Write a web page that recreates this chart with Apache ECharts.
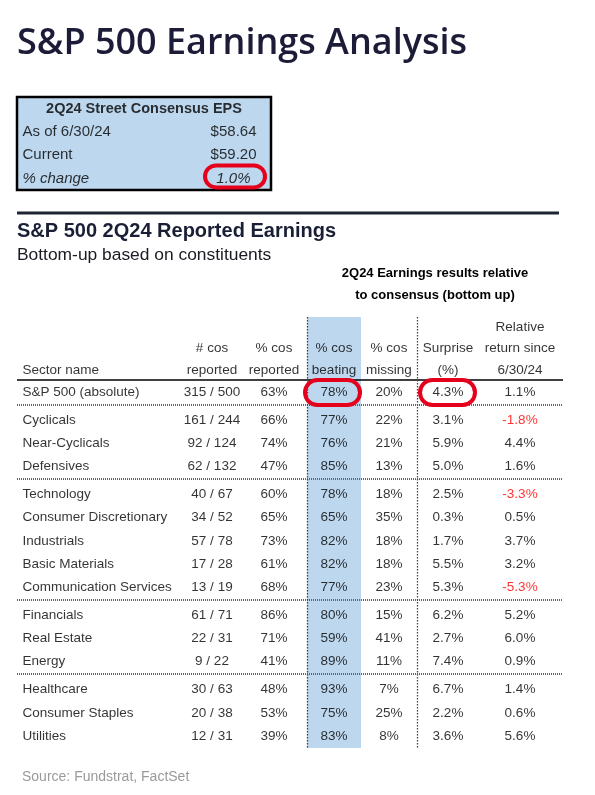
<!DOCTYPE html>
<html><head><meta charset="utf-8">
<script src="https://cdn.jsdelivr.net/npm/echarts/dist/echarts.min.js"></script>
<style>html,body{margin:0;padding:0;background:#fff}#c{width:595px;height:795px}</style>
</head><body><div id="c"></div>
<script>
// ---------------- DATA ----------------
const pageTitle = 'S&P 500 Earnings Analysis';
const epsTitle = '2Q24 Street Consensus EPS';
const epsLabels = ['As of 6/30/24', 'Current', '% change'];
const epsValues = [58.64, 59.20, 1.0];

const tableTitle = 'S&P 500 2Q24 Reported Earnings';
const tableSubtitle = 'Bottom-up based on constituents';
const groupHeader = ['2Q24 Earnings results relative', 'to consensus (bottom up)'];
const colHeaders = [
  ['Sector name'],
  ['# cos', 'reported'],
  ['% cos', 'reported'],
  ['% cos', 'beating'],
  ['% cos', 'missing'],
  ['Surprise', '(%)'],
  ['Relative', 'return since', '6/30/24']
];
const sectors = ['S&P 500 (absolute)', 'Cyclicals', 'Near-Cyclicals', 'Defensives',
  'Technology', 'Consumer Discretionary', 'Industrials', 'Basic Materials', 'Communication Services',
  'Financials', 'Real Estate', 'Energy', 'Healthcare', 'Consumer Staples', 'Utilities'];
const sectorGroup = [0, 1, 1, 1, 2, 2, 2, 2, 2, 3, 3, 3, 4, 4, 4];
const cosReported = [315, 161, 92, 62, 40, 34, 57, 17, 13, 61, 22, 9, 30, 20, 12];
const cosTotal = [500, 244, 124, 132, 67, 52, 78, 28, 19, 71, 31, 22, 63, 38, 31];
const pctReported = [63, 66, 74, 47, 60, 65, 73, 61, 68, 86, 71, 41, 48, 53, 39];
const pctBeating = [78, 77, 76, 85, 78, 65, 82, 82, 77, 80, 59, 89, 93, 75, 83];
const pctMissing = [20, 22, 21, 13, 18, 35, 18, 18, 23, 15, 41, 11, 7, 25, 8];
const surprisePct = [4.3, 3.1, 5.9, 5.0, 2.5, 0.3, 1.7, 5.5, 5.3, 6.2, 2.7, 7.4, 6.7, 2.2, 3.6];
const relReturn = [1.1, -1.8, 4.4, 1.6, -3.3, 0.5, 3.7, 3.2, -5.3, 5.2, 6.0, 0.9, 1.4, 0.6, 5.6];
const sourceText = 'Source: Fundstrat, FactSet';

// ---------------- LAYOUT ----------------
const FONT = '"Liberation Sans", Arial, sans-serif';
const BLUE = '#bdd7ee';
const RED = '#e5001c';
const COL_X = [22, 212, 274, 334, 389, 448, 520];
const COL_ALIGN = ['left', 'center', 'center', 'center', 'center', 'center', 'center'];
const PITCH = 23.2;
const GROUP_GAP = 4.8 / PITCH;
const GRID_TOP = 317, GRID_BOTTOM = 748, ROW0 = 392;
const yMin = -(ROW0 - GRID_TOP) / PITCH;
const yMax = yMin + (GRID_BOTTOM - GRID_TOP) / PITCH;
const HEADER_BASE = -(ROW0 - 370) / PITCH;
const HEADER_STEP = 21.5 / PITCH;
const TABLE_L = 17, TABLE_R = 563;
const BEAT_L = 307, BEAT_R = 361, DIV2 = 417;
const EPS_L = 17, EPS_R = 271, EPS_TOP = 97, EPS_H = 93;
const EPS_LABEL_X = 22, EPS_VALUE_X = [257, 257, 251];

const rowY = sectorGroup.map((g, i) => i + g * GROUP_GAP);

function fmtPct0(v) { return v + '%'; }
function fmtPct1(v) { return v.toFixed(1) + '%'; }

const columns = [
  sectors,
  cosReported.map((v, i) => v + ' / ' + cosTotal[i]),
  pctReported.map(fmtPct0),
  pctBeating.map(fmtPct0),
  pctMissing.map(fmtPct0),
  surprisePct.map(fmtPct1),
  relReturn.map(fmtPct1)
];

function textSeries(gridIdx, items, align, extra) {
  const pos = align === 'left' ? 'right' : (align === 'right' ? 'left' : 'inside');
  return {
    type: 'scatter', xAxisIndex: gridIdx, yAxisIndex: gridIdx, silent: true, z: 5,
    symbolSize: 1, itemStyle: { color: 'rgba(0,0,0,0)' }, animation: false,
    data: items.map(it => {
      const d = { value: [it.x, it.y], text: it.text };
      if (it.color) d.label = { color: it.color };
      return d;
    }),
    label: Object.assign({
      show: true, position: pos, distance: 0, formatter: p => p.data.text,
      fontFamily: FONT, fontSize: 13.5, color: '#000'
    }, extra || {})
  };
}

const series = [];

// blue "% cos beating" column
series.push({
  type: 'scatter', xAxisIndex: 0, yAxisIndex: 0, data: [], silent: true, z: 1,
  markArea: { silent: true, animation: false, itemStyle: { color: BLUE }, data: [[{ xAxis: BEAT_L }, { xAxis: BEAT_R }]] }
});

// rules
const sepLines = [];
for (let i = 1; i < sectors.length; i++) {
  if (sectorGroup[i] !== sectorGroup[i - 1]) {
    const y = (rowY[i - 1] + rowY[i]) / 2 - 0.06;
    sepLines.push([{ coord: [TABLE_L, y] }, { coord: [TABLE_R, y] }]);
  }
}
const headerRuleY = -(ROW0 - 380) / PITCH;
series.push({
  type: 'scatter', xAxisIndex: 0, yAxisIndex: 0, data: [], silent: true, z: 3,
  markLine: {
    silent: true, animation: false, symbol: ['none', 'none'], label: { show: false },
    lineStyle: { color: '#666', width: 2, type: [1, 1] },
    data: sepLines.concat([
      [{ coord: [TABLE_L, headerRuleY], lineStyle: { color: '#000', width: 1.5, type: 'solid' } },
       { coord: [TABLE_R, headerRuleY] }],
      { xAxis: BEAT_L, lineStyle: { color: '#444', width: 1.3, type: [1.5, 1.5] } },
      { xAxis: DIV2, lineStyle: { color: '#444', width: 1.3, type: [1.5, 1.5] } }
    ])
  }
});

// column headers
colHeaders.forEach((lines, c) => {
  const n = lines.length;
  series.push(textSeries(0, lines.map((t, k) => ({
    x: COL_X[c], y: HEADER_BASE - (n - 1 - k) * HEADER_STEP, text: t
  })), COL_ALIGN[c]));
});

// cells
columns.forEach((vals, c) => {
  series.push(textSeries(0, vals.map((t, i) => ({
    x: COL_X[c], y: rowY[i], text: t,
    color: (c === 6 && relReturn[i] < 0) ? '#ff0000' : null
  })), COL_ALIGN[c]));
});

// EPS box
series.push({
  type: 'scatter', xAxisIndex: 1, yAxisIndex: 1, data: [], silent: true, z: 1,
  markArea: { silent: true, animation: false,
    itemStyle: { color: BLUE, borderColor: '#000', borderWidth: 2.5 },
    data: [[{ xAxis: EPS_L }, { xAxis: EPS_R }]] }
});
series.push(textSeries(1, [{ x: (EPS_L + EPS_R) / 2, y: 0, text: epsTitle }], 'center',
  { fontWeight: 'bold', fontSize: 14.5 }));
epsLabels.forEach((t, i) => {
  const italic = i === 2 ? { fontStyle: 'italic' } : {};
  series.push(textSeries(1, [{ x: EPS_LABEL_X, y: i + 1, text: t }], 'left',
    Object.assign({ fontSize: 15 }, italic)));
  const v = i < 2 ? '$' + epsValues[i].toFixed(2) : epsValues[i].toFixed(1) + '%';
  series.push(textSeries(1, [{ x: EPS_VALUE_X[i], y: i + 1, text: v }], 'right',
    Object.assign({ fontSize: 15 }, italic)));
});

const hiddenAxis = { show: false, axisLabel: { show: false }, splitLine: { show: false } };
const option = {
  animation: false,
  backgroundColor: '#fff',
  grid: [
    { left: 0, right: 0, top: GRID_TOP, height: GRID_BOTTOM - GRID_TOP, containLabel: false, outerBoundsMode: 'none' },
    { left: 0, right: 0, top: EPS_TOP, height: EPS_H, containLabel: false, outerBoundsMode: 'none' }
  ],
  xAxis: [
    Object.assign({ type: 'value', gridIndex: 0, min: 0, max: 595 }, hiddenAxis),
    Object.assign({ type: 'value', gridIndex: 1, min: 0, max: 595 }, hiddenAxis)
  ],
  yAxis: [
    Object.assign({ type: 'value', gridIndex: 0, min: yMin, max: yMax, inverse: true }, hiddenAxis),
    Object.assign({ type: 'value', gridIndex: 1, min: -0.5, max: 3.5, inverse: true }, hiddenAxis)
  ],
  series: series
};

const chart = echarts.init(document.getElementById('c'), null, { renderer: 'canvas' });
chart.setOption(option);

function ring(gridIndex, pt, dx, dy, w, h) {
  const p = chart.convertToPixel({ gridIndex: gridIndex }, pt);
  return {
    type: 'rect', z: 100, silent: true,
    shape: { x: p[0] + dx - w / 2, y: p[1] + dy - h / 2, width: w, height: h, r: h / 2 },
    style: { fill: 'none', stroke: RED, lineWidth: 4 }
  };
}

chart.setOption({
  graphic: [
    { type: 'text', silent: true, x: 17, y: 44,
      style: { text: pageTitle, fontFamily: '"Open Sans", sans-serif', fontWeight: 600, fontSize: 36, fill: '#1c1c38', verticalAlign: 'middle' } },
    { type: 'line', silent: true, shape: { x1: 17, y1: 213, x2: 559, y2: 213 },
      style: { stroke: '#1f2433', lineWidth: 3 } },
    { type: 'text', silent: true, x: 17, y: 231,
      style: { text: tableTitle, fontFamily: FONT, fontWeight: 'bold', fontSize: 20, fill: '#1a1f36', verticalAlign: 'middle' } },
    { type: 'text', silent: true, x: 17, y: 255,
      style: { text: tableSubtitle, fontFamily: FONT, fontSize: 17.4, fill: '#1a1a22', verticalAlign: 'middle' } },
    { type: 'text', silent: true, x: (BEAT_L + TABLE_R) / 2, y: 273,
      style: { text: groupHeader[0], fontFamily: FONT, fontWeight: 'bold', fontSize: 13, fill: '#000', align: 'center', verticalAlign: 'middle' } },
    { type: 'text', silent: true, x: (BEAT_L + TABLE_R) / 2, y: 295,
      style: { text: groupHeader[1], fontFamily: FONT, fontWeight: 'bold', fontSize: 13, fill: '#000', align: 'center', verticalAlign: 'middle' } },
    { type: 'text', silent: true, x: 22, y: 777,
      style: { text: sourceText, fontFamily: FONT, fontSize: 14, fill: '#9a9a9a', verticalAlign: 'middle' } },
    ring(0, [COL_X[3], rowY[0]], -1.5, 0.5, 55, 25),
    ring(0, [COL_X[5], rowY[0]], -0.5, 0.5, 55, 25),
    ring(1, [EPS_VALUE_X[2], 3], -16, -2, 60, 22)
  ]
});
</script>
</body></html>
